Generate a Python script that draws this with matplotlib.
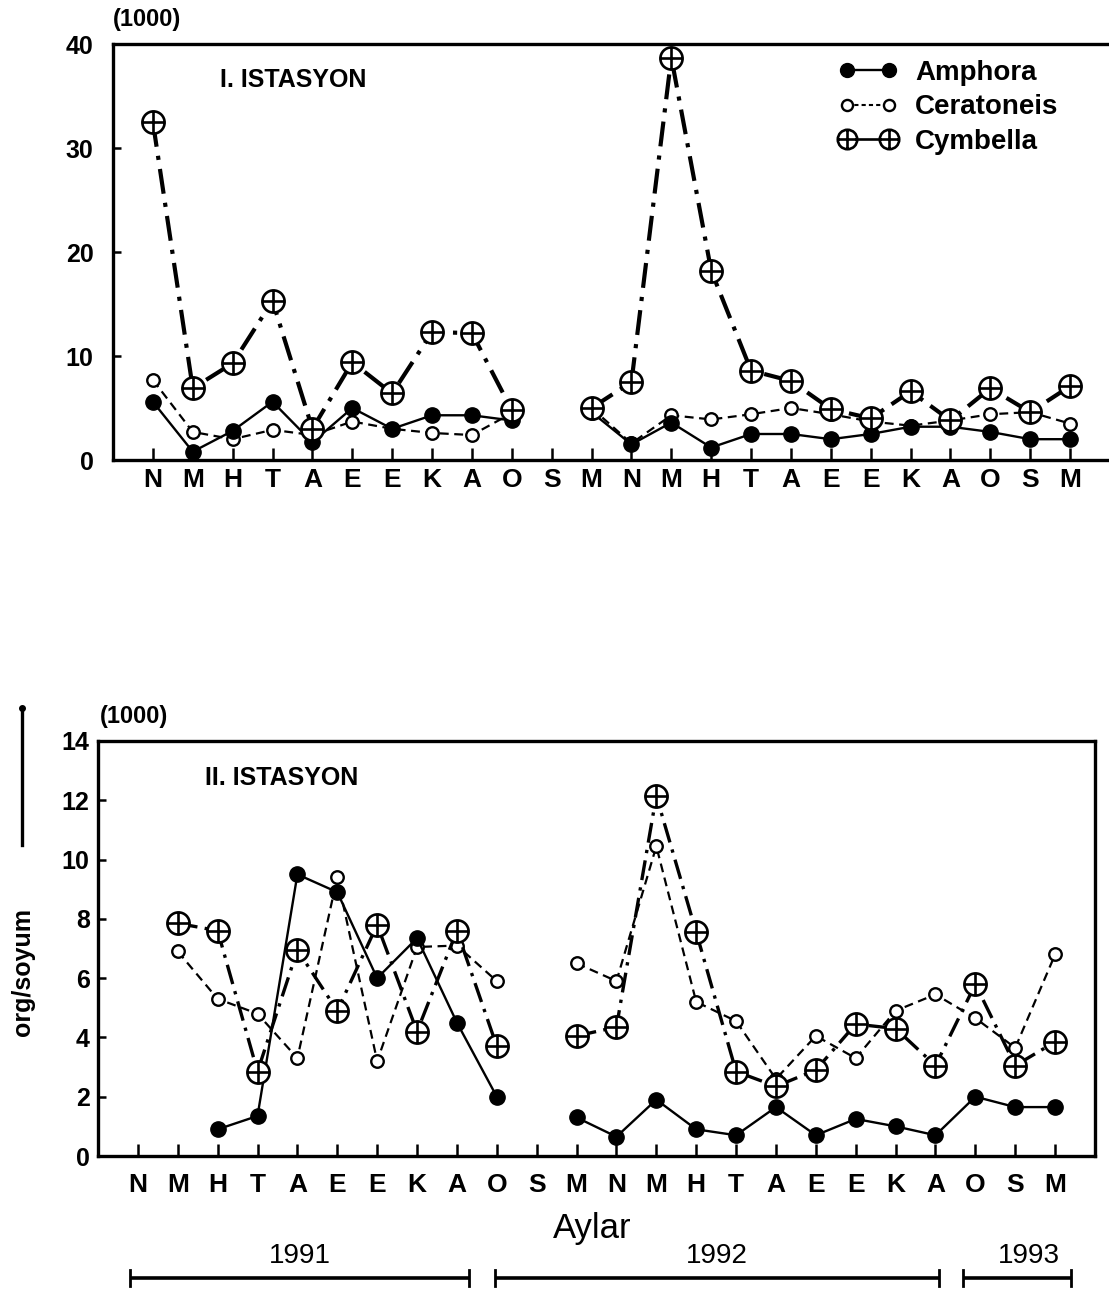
import numpy as np
import matplotlib
matplotlib.use("Agg")
import matplotlib.pyplot as plt
import matplotlib.transforms as mtransforms
from matplotlib.path import Path
from matplotlib.lines import Line2D

plt.rcParams['font.family'] = ['Liberation Sans', 'DejaVu Sans']
plt.rcParams['font.weight'] = 'bold'

nan = np.nan

# month initials (Turkish), April 1991 -> March 1993
months = ["N", "M", "H", "T", "A", "E", "E", "K", "A", "O", "S", "M",
          "N", "M", "H", "T", "A", "E", "E", "K", "A", "O", "S", "M"]

# I. ISTASYON (x1000 org)
st1_amphora = [5.6, 0.8, 2.8, 5.6, 1.7, 5.0, 3.0, 4.3, 4.3, 3.8, nan, 4.6,
               1.5, 3.6, 1.2, 2.5, 2.5, 2.0, 2.5, 3.2, 3.2, 2.7, 2.0, 2.0]
st1_ceratoneis = [7.7, 2.7, 2.0, 2.9, 2.4, 3.7, 3.0, 2.6, 2.4, 4.5, nan, 5.0,
                  1.6, 4.3, 3.9, 4.4, 5.0, 4.4, 3.7, 3.3, 3.8, 4.4, 4.6, 3.5]
st1_cymbella = [32.5, 6.9, 9.3, 15.3, 3.0, 9.4, 6.4, 12.3, 12.2, 4.8, nan, 5.0,
                7.5, 38.7, 18.2, 8.6, 7.6, 4.9, 4.0, 6.6, 3.8, 6.9, 4.6, 7.1]

# II. ISTASYON (x1000 org)
st2_amphora = [nan, nan, 0.9, 1.35, 9.5, 8.9, 6.0, 7.35, 4.5, 2.0, nan, 1.3,
               0.65, 1.9, 0.9, 0.7, 1.65, 0.7, 1.25, 1.0, 0.7, 2.0, 1.65, 1.65]
st2_ceratoneis = [nan, 6.9, 5.3, 4.8, 3.3, 9.4, 3.2, 7.05, 7.1, 5.9, nan, 6.5,
                  5.9, 10.45, 5.2, 4.55, 2.6, 4.05, 3.3, 4.9, 5.45, 4.65, 3.65, 6.8]
st2_cymbella = [nan, 7.85, 7.6, 2.85, 6.95, 4.9, 7.8, 4.2, 7.6, 3.7, nan, 4.05,
                4.35, 12.15, 7.55, 2.85, 2.35, 2.9, 4.45, 4.3, 3.05, 5.8, 3.05, 3.85]

years = ["1991", "1992", "1993"]
year_spans = [(-0.2, 8.3), (8.95, 20.1), (20.7, 23.4)]

x = np.arange(len(months))

# circle with a cross inside
circ = Path.unit_circle()
plus_verts = np.concatenate([circ.vertices, [[-1, 0], [1, 0], [0, -1], [0, 1]]])
plus_codes = np.concatenate([circ.codes, [Path.MOVETO, Path.LINETO, Path.MOVETO, Path.LINETO]])
circ_plus = Path(plus_verts, plus_codes)

W, H = 1109, 1294
fig = plt.figure(figsize=(W / 100, H / 100), dpi=100)
ax1 = fig.add_axes([113 / W, 1 - 460 / H, 997 / W, 416 / H])
ax2 = fig.add_axes([98 / W, 1 - 1156 / H, 997 / W, 415 / H])

def draw(ax, amph, cera, cymb, big):
    lw_c = 3.0 if big else 2.4
    ax.plot(x, cera, color='black', lw=1.6, ls=(0, (4, 2.5)), marker='o',
            ms=9, mfc='white', mec='black', mew=1.7, zorder=3)
    ax.plot(x, amph, color='black', lw=1.7, ls='-', marker='o',
            ms=11, mfc='black', mec='black', zorder=4)
    ax.plot(x, cymb, color='black', lw=lw_c, ls=(0, (6, 2.2, 1, 2.2)), marker=circ_plus,
            ms=16, mfc='white', mec='black', mew=1.9, zorder=5)
    ax.set_xlim(-1, 24)
    ax.set_xticks(x)
    ax.set_xticklabels(months, fontsize=19, fontweight='bold')
    for s in ax.spines.values():
        s.set_linewidth(2.4)
    ax.tick_params(axis='x', direction='in', length=9, width=1.8, pad=6)
    ax.tick_params(axis='y', direction='in', length=6, width=1.8, labelsize=18)
    ax.patch.set_alpha(0)

draw(ax1, st1_amphora, st1_ceratoneis, st1_cymbella, True)
ax1.set_ylim(0, 40)
ax1.set_yticks([0, 10, 20, 30, 40])
ax1.tick_params(axis='y', pad=14)
ax1.spines['right'].set_visible(False)
ax1.text(0.0, 1.058, "(1000)", transform=ax1.transAxes, fontsize=17,
         fontweight='bold', ha='left', va='center')
ax1.text(0.107, 0.913, "I. ISTASYON", transform=ax1.transAxes, fontsize=18,
         fontweight='bold', ha='left', va='center')

h_amph = Line2D([], [], color='black', lw=1.7, marker='o', ms=10, mfc='black')
h_cera = Line2D([], [], color='black', lw=1.5, ls=(0, (2, 1.5)), marker='o', ms=8,
                mfc='white', mew=1.7)
h_cymb = Line2D([], [], color='black', lw=1.9, marker=circ_plus, ms=14,
                mfc='white', mew=1.9)
ax1.legend([h_amph, h_cera, h_cymb], ["Amphora", "Ceratoneis", "Cymbella"],
           loc='upper left', bbox_to_anchor=(0.714, 0.995), frameon=False,
           numpoints=2, handlelength=2.1, handletextpad=0.65, labelspacing=0.3,
           prop={'size': 20, 'weight': 'bold'}, borderpad=0)

draw(ax2, st2_amphora, st2_ceratoneis, st2_cymbella, False)
ax2.set_ylim(0, 14)
ax2.set_yticks(range(0, 15, 2))
ax2.tick_params(axis='y', pad=6)
ax2.tick_params(axis='x', pad=12)
ax2.text(0.002, 1.058, "(1000)", transform=ax2.transAxes, fontsize=17,
         fontweight='bold', ha='left', va='center')
ax2.text(0.107, 0.911, "II. ISTASYON", transform=ax2.transAxes, fontsize=18,
         fontweight='bold', ha='left', va='center')

# axis label with arrow
fig.text(23 / W, 1 - 972 / H, "org/soyum", rotation=90, fontsize=18,
         fontweight='bold', ha='center', va='center')
fig.add_artist(Line2D([22 / W, 22 / W], [1 - 845 / H, 1 - 708 / H], color='black', lw=2.4))
fig.add_artist(Line2D([22 / W], [1 - 708 / H], color='black', marker='o', ms=4))

# months and year brackets under the lower panel
trans = mtransforms.blended_transform_factory(ax2.transData, ax2.transAxes)
ax2.text(11.4, -0.175, "Aylar", transform=trans, fontsize=25, fontweight='normal',
         ha='center', va='center')
for yr, (a, b) in zip(years, year_spans):
    ax2.plot([a, b], [-0.294, -0.294], transform=trans, color='black', lw=2.6,
             clip_on=False, solid_capstyle='butt')
    for e in (a, b):
        ax2.plot([e, e], [-0.275, -0.313], transform=trans, color='black', lw=2.0,
                 clip_on=False)
    ax2.text((a + b) / 2 + (0.3 if yr == "1993" else 0), -0.24, yr, transform=trans,
             fontsize=20, fontweight='normal', ha='center', va='center',
             family=['Liberation Sans Narrow', 'Liberation Sans', 'DejaVu Sans'])

fig.savefig("out.png", dpi=100)
